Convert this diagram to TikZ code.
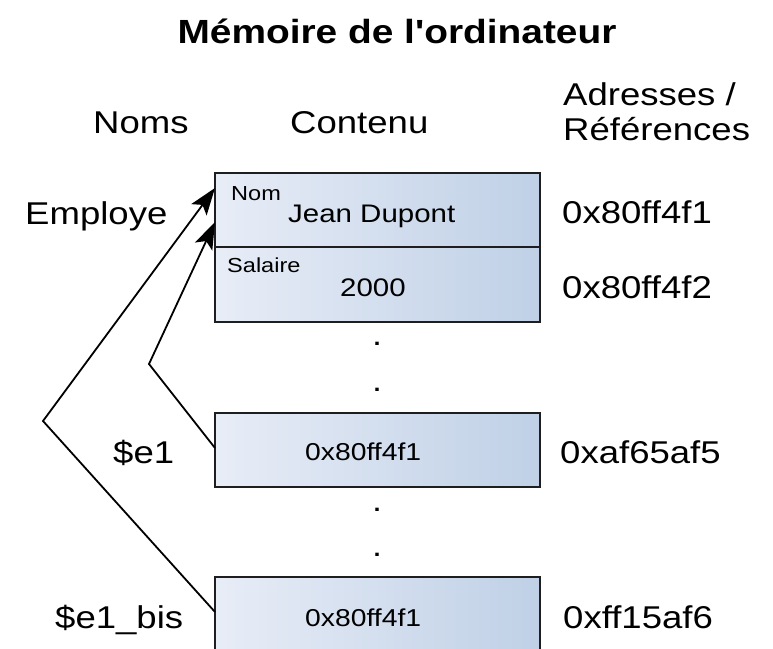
\documentclass[tikz,border=0pt]{standalone}
\usepackage{fontspec}
\setmainfont{Liberation Sans}[FakeStretch=1.16, Ligatures=TeXOff]
\usetikzlibrary{arrows.meta,calc}

\definecolor{cellleft}{HTML}{E8EDF7}
\definecolor{cellright}{HTML}{BFD0E6}
\definecolor{cellborder}{HTML}{1E1E1E}

\tikzset{
  titletext/.style={anchor=base, inner sep=0pt, font=\fontsize{33.5}{38}\selectfont\bfseries},
  bigtext/.style={anchor=base west, inner sep=0pt, font=\fontsize{31.5}{36}\selectfont},
  celltext/.style={anchor=base west, inner sep=0pt, font=\fontsize{24.4}{28}\selectfont},
  fieldtext/.style={anchor=base west, inner sep=0pt, font=\fontsize{20.3}{24}\selectfont},
  dottext/.style={anchor=base, inner sep=0pt, font=\fontsize{31}{36}\selectfont},
  memcell/.style={draw=cellborder, line width=2.2pt, left color=cellleft, right color=cellright,
    shading angle=90, minimum width=325pt, inner sep=0pt, outer sep=0pt, rectangle},
  refline/.style={line width=1.8pt, black, line join=miter},
  reftip/.style={-{Stealth[length=27pt,width=19pt,inset=6pt]}}
}

\begin{document}
\begin{tikzpicture}[x=1pt,y=-1pt]
  \clip (0,0) rectangle (773,648);
  \fill[white] (0,0) rectangle (773,648);

  % title and column headings
  \node[titletext] (title) at (397,43) {Mémoire de l'ordinateur};
  \node[bigtext] (hnoms) at (93,133) {Noms};
  \node[bigtext] (hcontenu) at (290,133) {Contenu};
  \node[bigtext] (hadr) at (563,105) {Adresses /};
  \node[bigtext] (href) at (563,140) {Références};

  % memory cells
  \node[memcell, minimum height=74pt] (mem1) at (377.5,210) {};
  \node[memcell, minimum height=75pt] (mem2) at (377.5,284.5) {};
  \node[memcell, minimum height=74pt] (mem3) at (377.5,450) {};
  \node[memcell, minimum height=86pt] (mem4) at (377.5,620) {};

  % cell contents
  \node[fieldtext] (fnom) at (231,200) {Nom};
  \node[celltext, font=\fontsize{25.4}{29}\selectfont] (vnom) at (288,222) {Jean Dupont};
  \node[fieldtext] (fsal) at (227,272) {Salaire};
  \node[celltext, font=\fontsize{25.4}{29}\selectfont] (vsal) at (340,296) {2000};
  \node[celltext] (vref1) at (305,460) {0x80ff4f1};
  \node[celltext] (vref2) at (305,626) {0x80ff4f1};

  % elided memory
  \node[dottext] (d1) at (377,345) {.};
  \node[dottext] (d2) at (377,391) {.};
  \node[dottext] (d3) at (377,511) {.};
  \node[dottext] (d4) at (377,556) {.};

  % variable names
  \node[bigtext] (nemp) at (25,224) {Employe};
  \node[bigtext] (ne1) at (113,463) {\$e1};
  \node[bigtext] (ne1b) at (55,628) {\$e1\_bis};

  % addresses
  \node[bigtext] (a1) at (562,223) {0x80ff4f1};
  \node[bigtext] (a2) at (562,298) {0x80ff4f2};
  \node[bigtext] (a3) at (560,463) {0xaf65af5};
  \node[bigtext] (a4) at (563,628) {0xff15af6};

  % references to the object
  \coordinate (bendA) at (43,421);
  \coordinate (bendB) at (149,364);
  \draw[refline, reftip] ([yshift=-35pt]mem4.north west) -- (bendA) -- ([yshift=-15pt]mem1.north west);
  \draw[refline, reftip] ([yshift=-35pt]mem3.north west) -- (bendB) -- ([yshift=-49pt]mem1.north west);
\end{tikzpicture}
\end{document}
